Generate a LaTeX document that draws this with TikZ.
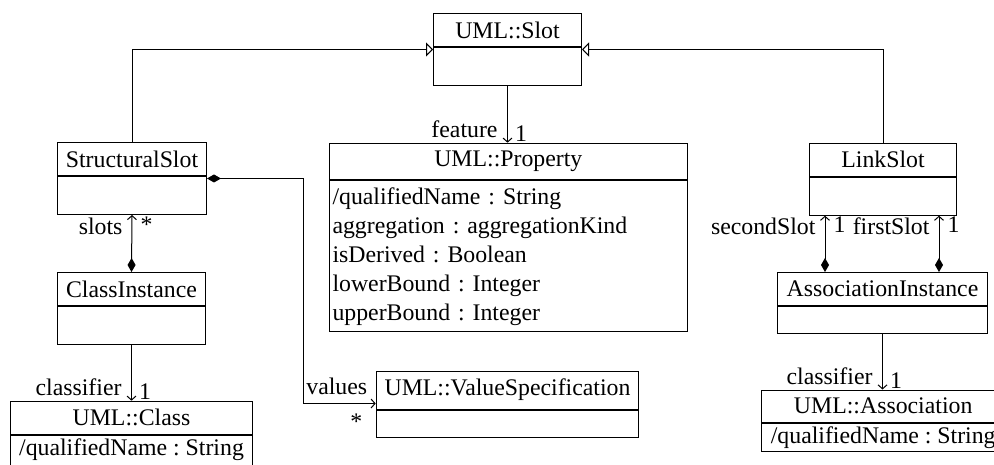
\documentclass[tikz,border=0pt]{standalone}
\usepackage{fontspec}
\setmainfont{Liberation Serif}
\usetikzlibrary{arrows.meta}

\tikzset{
  umlhead/.style={draw, anchor=north west, inner xsep=3pt, inner ysep=8pt, minimum height=33pt},
  umlbody/.style={draw, anchor=north west, inner sep=0pt},
  umlattr/.style={draw, anchor=north west, align=left, inner xsep=3pt, inner ysep=7.5pt},
  inherit/.style={-{Triangle[open, length=7pt, width=14pt]}},
  assoc/.style={-{Straight Barb[length=4pt, width=9pt]}},
  compose/.style={{Diamond[length=14pt, width=8pt]}-{Straight Barb[length=4pt, width=9pt]}},
  rolea/.style={anchor=south east, inner sep=0pt, xshift=-9.5pt, yshift=4.5pt},
  multa/.style={anchor=south west, inner sep=0pt, xshift=7pt, yshift=0.5pt},
  roleb/.style={anchor=north east, inner sep=0pt, xshift=-9pt, yshift=-2pt},
  multb/.style={anchor=north west, inner sep=0pt, xshift=8pt, yshift=-1pt}
}

\begin{document}
\begin{tikzpicture}[x=1pt,y=-1pt,line width=1pt,font=\fontsize{23.8pt}{29pt}\selectfont\frenchspacing]
\useasboundingbox (0,0) rectangle (994,465);

% classes
\node[umlhead, minimum width=148pt] (slot) at (433,13) {UML::Slot};
\node[umlbody, minimum width=148pt, minimum height=38pt] (slotb) at (slot.south west) {};

\node[umlhead, minimum width=149pt] (ss) at (57,142) {StructuralSlot};
\node[umlbody, minimum width=149pt, minimum height=38pt] (ssb) at (ss.south west) {};

\node[umlhead, minimum width=357.7pt] (prop) at (329,142.7) {UML::Property};
\node[umlattr, text width=351.7pt, inner ysep=6.5pt] (propb) at (prop.south west) {/qualifiedName : String\\aggregation : aggregationKind\\isDerived : Boolean\\lowerBound : Integer\\upperBound : Integer};

\node[umlhead, minimum width=147pt] (link) at (809,142.7) {LinkSlot};
\node[umlbody, minimum width=147pt, minimum height=38pt] (linkb) at (link.south west) {};

\node[umlhead, minimum width=148pt] (ci) at (57,272) {ClassInstance};
\node[umlbody, minimum width=148pt, minimum height=38pt] (cib) at (ci.south west) {};

\node[umlhead, minimum width=262.6pt] (vs) at (375.7,370.7) {UML::ValueSpecification};
\node[umlbody, minimum width=262.6pt, minimum height=27pt] (vsb) at (vs.south west) {};

\node[umlhead, minimum width=242pt, minimum height=31.6pt] (cls) at (10,400.7) {UML::Class};
\node[umlbody, minimum width=242pt, inner ysep=3.5pt, text depth=12pt] (clsb) at (cls.south west) {/qualifiedName : String};

\node[umlhead, minimum width=210pt] (ai) at (777,272) {AssociationInstance};
\node[umlbody, minimum width=210pt, minimum height=27pt] (aib) at (ai.south west) {};

\node[umlhead, minimum width=244pt, minimum height=32pt] (asc) at (760.7,389.5) {UML::Association};
\node[umlbody, minimum width=244pt, inner ysep=3.5pt] (ascb) at (asc.south west) {/qualifiedName : String};

% connector ends
\coordinate (slotL) at ([yshift=-2.5pt]slotb.north west);
\coordinate (slotR) at ([yshift=-2.5pt]slotb.north east);
\coordinate (ssR) at ([yshift=-2.5pt]ssb.north east);
\coordinate (vsL) at ([yshift=6pt]vsb.north west);
\coordinate (ai1) at ([xshift=48pt]ai.north west);
\coordinate (ai2) at ([xshift=162pt]ai.north west);

% generalizations
\draw[inherit] (ss.north) |- (slotL);
\draw[inherit] (link.north) |- (slotR);

% associations
\draw[assoc] (slotb.south) -- (slotb.south |- prop.north)
  node[pos=1, rolea] {feature} node[pos=1, multa] {1};
\draw[assoc] (cib.south) -- (cls.north)
  node[pos=1, rolea] {classifier} node[pos=1, multa] {1};
\draw[assoc] (aib.south) -- (aib.south |- asc.north)
  node[pos=1, rolea] {classifier} node[pos=1, multa] {1};

% compositions
\draw[compose] (ci.north) -- (ssb.south)
  node[pos=1, roleb] {slots} node[pos=1, multb] {*};
\draw[compose] (ai1) -- (ai1 |- linkb.south)
  node[pos=1, roleb] {secondSlot} node[pos=1, multb] {1};
\draw[compose] (ai2) -- (ai2 |- linkb.south)
  node[pos=1, roleb] {firstSlot} node[pos=1, multb] {1};
\draw[compose] (ssR) -- ++(96,0) |- (vsL)
  node[pos=1, anchor=south east, inner sep=0pt, xshift=-8pt, yshift=8pt] {values}
  node[pos=1, anchor=north east, inner sep=0pt, xshift=-13pt, yshift=-10pt] {*};

\end{tikzpicture}
\end{document}
